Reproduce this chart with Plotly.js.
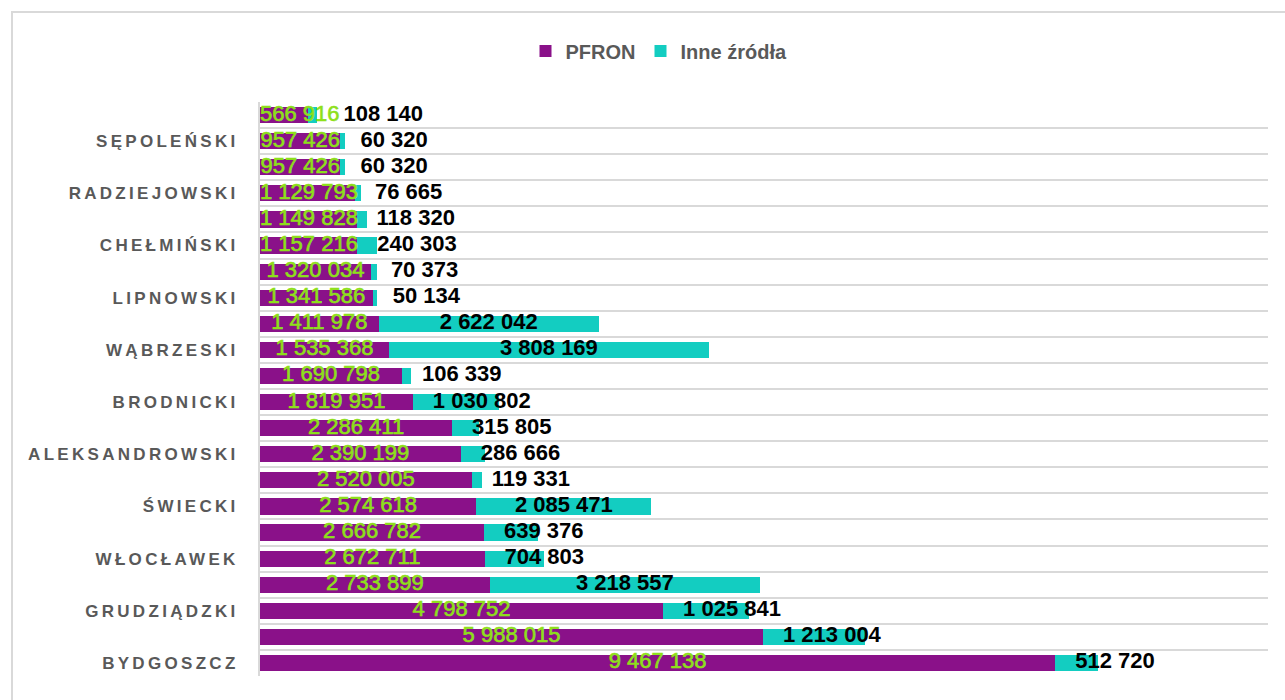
<!DOCTYPE html>
<html>
<head>
<meta charset="utf-8">
<script src="https://cdn.plot.ly/plotly-3.0.1.min.js"></script>
<style>
  html, body { margin: 0; padding: 0; background: #fff; }
  #chart { width: 1285px; height: 700px; }
</style>
</head>
<body>
<div id="chart"></div>
<script>
// Rows from bottom to top; empty string = row without a visible label
const rowLabels = [
  'BYDGOSZCZ', '', 'GRUDZIĄDZKI', '', 'WŁOCŁAWEK', '', 'ŚWIECKI', '',
  'ALEKSANDROWSKI', '', 'BRODNICKI', '', 'WĄBRZESKI', '', 'LIPNOWSKI', '',
  'CHEŁMIŃSKI', '', 'RADZIEJOWSKI', '', 'SĘPOLEŃSKI', ''
];
const pfron = [
  9467138, 5988015, 4798752, 2733899, 2672711, 2666782, 2574618, 2520005,
  2390199, 2286411, 1819951, 1690798, 1535368, 1411978, 1341586, 1320034,
  1157216, 1149828, 1129793, 957426, 957426, 566916
];
const inne = [
  512720, 1213004, 1025841, 3218557, 704803, 639376, 2085471, 119331,
  286666, 315805, 1030802, 106339, 3808169, 2622042, 50134, 70373,
  240303, 118320, 76665, 60320, 60320, 108140
];
const seriesNames = ['PFRON', 'Inne źródła'];

const COL_PFRON = '#8A1189';
const COL_INNE = '#13CDC1';
const COL_GREEN = '#8EE01A';
const FONT = "'Liberation Sans', Arial, sans-serif";
const LABEL_SIZE = 22;

const W = 1285, H = 700;
const M = { l: 260, r: 17, t: 102, b: 24 };
const plotW = W - M.l - M.r, plotH = H - M.t - M.b;
const xMax = 12000000;
const pxPerUnit = plotW / xMax;

const rows = rowLabels.map((_, i) => i);
const fmt = v => String(v).replace(/\B(?=(\d{3})+(?!\d))/g, ' ');

const cv = document.createElement('canvas').getContext('2d');
// PFRON labels: centred on their segment, but not starting left of the axis
cv.font = LABEL_SIZE + "px 'Liberation Sans'";
const pfronW = pfron.map(p => cv.measureText(fmt(p)).width);
const pfronCenterPx = pfron.map((p, i) => Math.max((p / 2) * pxPerUnit, pfronW[i] / 2));
const pfronLabelX = pfronCenterPx.map(c => c / pxPerUnit);
// "Inne" labels: centred on their segment, but kept clear of the PFRON segment end and label
cv.font = "bold " + LABEL_SIZE + "px 'Liberation Sans'";
const inneLabelX = pfron.map((p, i) => {
  const w = cv.measureText(fmt(inne[i])).width;
  const centerPx = (p + inne[i] / 2) * pxPerUnit;
  const minLeft = Math.max(p * pxPerUnit + 20, pfronCenterPx[i] + pfronW[i] / 2 + 4);
  return Math.max(centerPx, minLeft + w / 2) / pxPerUnit;
});

const traces = [
  { type: 'bar', orientation: 'h', name: seriesNames[0], y: rows, x: pfron,
    marker: { color: COL_PFRON, line: { width: 0 } }, hoverinfo: 'skip' },
  { type: 'bar', orientation: 'h', name: seriesNames[1], y: rows, x: inne,
    marker: { color: COL_INNE, line: { width: 0 } }, hoverinfo: 'skip' },
  { type: 'scatter', mode: 'text', y: rows, x: pfronLabelX, text: pfron.map(fmt),
    textposition: 'middle center', showlegend: false, hoverinfo: 'skip', cliponaxis: true,
    textfont: { family: FONT, size: LABEL_SIZE, color: COL_GREEN } },
  { type: 'scatter', mode: 'text', y: rows, x: inneLabelX, text: inne.map(fmt),
    textposition: 'middle center', showlegend: false, hoverinfo: 'skip', cliponaxis: true,
    textfont: { family: FONT, size: LABEL_SIZE, color: '#000000', weight: 'bold' } }
];

const layout = {
  width: W, height: H,
  margin: M,
  paper_bgcolor: '#ffffff', plot_bgcolor: '#ffffff',
  barmode: 'stack', bargap: 0.38,
  showlegend: true,
  legend: {
    orientation: 'h', x: (659 - M.l) / plotW, xanchor: 'center',
    y: (H - M.b - 51) / plotH, yanchor: 'middle',
    font: { family: FONT, size: 20, color: '#595959', weight: 'bold' },
    traceorder: 'normal', itemwidth: 30
  },
  xaxis: {
    range: [0, xMax], showgrid: false, zeroline: false, showticklabels: false,
    showline: false, fixedrange: true
  },
  yaxis: {
    range: [-0.5, rowLabels.length - 0.5],
    tickmode: 'array', tickvals: rows, ticktext: rowLabels,
    ticks: '', ticklabelstandoff: 16,
    tickfont: { family: FONT, size: 17, color: '#595959', weight: 'bold' },
    showgrid: false, zeroline: false,
    showline: true, linecolor: '#D9D9D9', linewidth: 2,
    minor: { tickmode: 'linear', tick0: -0.5, dtick: 1, showgrid: true,
             gridcolor: '#D9D9D9', gridwidth: 2, ticks: '' },
    fixedrange: true
  },
  shapes: [{
    type: 'rect', xref: 'paper', yref: 'paper', layer: 'below',
    x0: (12 - M.l) / plotW, x1: 1.2, y0: -0.3, y1: (H - M.b - 12) / plotH,
    line: { color: '#D9D9D9', width: 2 }, fillcolor: 'rgba(0,0,0,0)'
  }]
};

Plotly.newPlot('chart', traces, layout, { staticPlot: true, displayModeBar: false }).then(() => {
  document.querySelectorAll('.ytick text').forEach(t => { t.style.letterSpacing = '3.3px'; });
  const scatterTraces = document.querySelectorAll('.scatterlayer .trace');
  if (scatterTraces[0]) {
    scatterTraces[0].querySelectorAll('text').forEach(t => {
      t.style.stroke = COL_GREEN; t.style.strokeWidth = '0.6px';
    });
  }
});
</script>
</body>
</html>
